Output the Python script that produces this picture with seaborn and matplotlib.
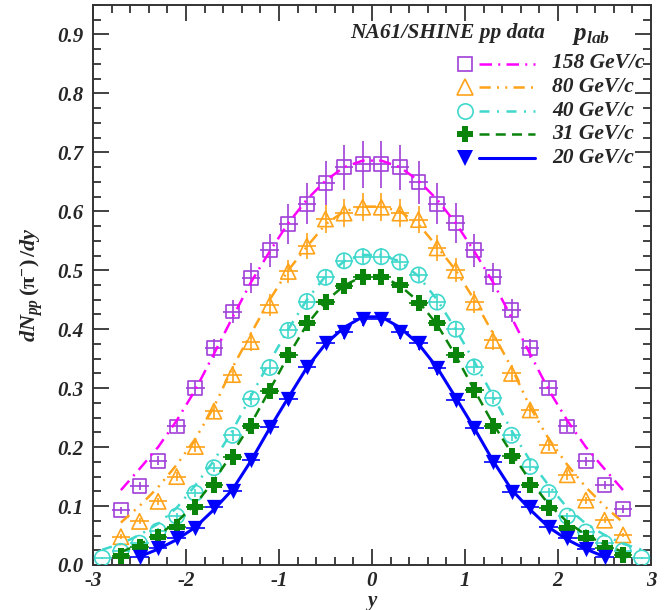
import matplotlib
matplotlib.use("Agg")
import matplotlib.pyplot as plt
from matplotlib.ticker import MultipleLocator, FormatStrFormatter
import seaborn as sns
import numpy as np

# ---------------- data ----------------
x27 = [-2.7, -2.5, -2.3, -2.1, -1.9, -1.7, -1.5, -1.3, -1.1, -0.9, -0.7, -0.5, -0.3, -0.1,
       0.1, 0.3, 0.5, 0.7, 0.9, 1.1, 1.3, 1.5, 1.7, 1.9, 2.1, 2.3, 2.5, 2.7]
x29 = [-2.9, -2.7, -2.5, -2.3, -2.1, -1.9, -1.7, -1.5, -1.3, -1.1, -0.9, -0.7, -0.5, -0.3, -0.1,
       0.1, 0.3, 0.5, 0.7, 0.9, 1.1, 1.3, 1.5, 1.7, 1.9, 2.1, 2.3, 2.5, 2.7, 2.9]
x25 = [-2.5, -2.3, -2.1, -1.9, -1.7, -1.5, -1.3, -1.1, -0.9, -0.7, -0.5, -0.3, -0.1,
       0.1, 0.3, 0.5, 0.7, 0.9, 1.1, 1.3, 1.5, 1.7, 1.9, 2.1, 2.3, 2.5]

# 158 GeV/c
y158 = [0.093, 0.134, 0.177, 0.235, 0.300, 0.368, 0.430, 0.487, 0.534, 0.578, 0.613, 0.648, 0.675, 0.680,
        0.680, 0.675, 0.649, 0.613, 0.580, 0.534, 0.488, 0.432, 0.368, 0.300, 0.235, 0.176, 0.136, 0.095]
e158 = [0.006, 0.007, 0.008, 0.010, 0.012, 0.016, 0.019, 0.025, 0.028, 0.034, 0.035, 0.037, 0.038, 0.040,
        0.040, 0.038, 0.037, 0.035, 0.034, 0.028, 0.025, 0.019, 0.016, 0.012, 0.010, 0.008, 0.007, 0.006]
f158 = [0.127, 0.163, 0.200, 0.245, 0.297, 0.358, 0.420, 0.480, 0.532, 0.580, 0.620, 0.652, 0.675, 0.686,
        0.686, 0.675, 0.652, 0.620, 0.580, 0.532, 0.480, 0.420, 0.358, 0.297, 0.245, 0.200, 0.163, 0.127]

# 80 GeV/c
y80 = [0.048, 0.074, 0.108, 0.150, 0.201, 0.261, 0.323, 0.379, 0.441, 0.498, 0.541, 0.587, 0.597, 0.607,
       0.607, 0.597, 0.586, 0.538, 0.500, 0.446, 0.381, 0.325, 0.263, 0.203, 0.153, 0.110, 0.076, 0.051]
e80 = [0.004, 0.005, 0.006, 0.008, 0.010, 0.012, 0.014, 0.016, 0.018, 0.020, 0.022, 0.023, 0.024, 0.024,
       0.024, 0.024, 0.023, 0.022, 0.020, 0.018, 0.016, 0.014, 0.012, 0.010, 0.008, 0.006, 0.005, 0.004]
f80 = [0.072, 0.100, 0.132, 0.170, 0.214, 0.268, 0.335, 0.393, 0.450, 0.500, 0.540, 0.578, 0.600, 0.608,
       0.608, 0.600, 0.578, 0.540, 0.500, 0.450, 0.393, 0.335, 0.268, 0.214, 0.170, 0.132, 0.100, 0.072]

# 40 GeV/c
y40 = [0.012, 0.023, 0.037, 0.058, 0.083, 0.122, 0.165, 0.220, 0.282, 0.335, 0.398, 0.447, 0.488, 0.516, 0.523,
       0.523, 0.514, 0.492, 0.446, 0.400, 0.336, 0.283, 0.220, 0.167, 0.123, 0.083, 0.056, 0.037, 0.024, 0.012]
e40 = [0.002, 0.003, 0.004, 0.005, 0.006, 0.007, 0.008, 0.009, 0.010, 0.011, 0.012, 0.013, 0.013, 0.014, 0.014,
       0.014, 0.014, 0.013, 0.013, 0.012, 0.011, 0.010, 0.009, 0.008, 0.007, 0.006, 0.005, 0.004, 0.003, 0.002]
f40 = [0.026, 0.036, 0.051, 0.070, 0.097, 0.135, 0.177, 0.228, 0.287, 0.345, 0.400, 0.450, 0.490, 0.515, 0.526,
       0.526, 0.515, 0.490, 0.450, 0.400, 0.345, 0.287, 0.228, 0.177, 0.135, 0.097, 0.070, 0.051, 0.036, 0.026]

# 31 GeV/c
y31 = [0.016, 0.031, 0.047, 0.064, 0.098, 0.135, 0.184, 0.236, 0.295, 0.356, 0.411, 0.446, 0.473, 0.489,
       0.489, 0.475, 0.444, 0.411, 0.356, 0.297, 0.236, 0.185, 0.136, 0.097, 0.063, 0.046, 0.029, 0.017]
e31 = [0.002, 0.003, 0.004, 0.005, 0.006, 0.007, 0.008, 0.009, 0.010, 0.011, 0.012, 0.012, 0.013, 0.013,
       0.013, 0.013, 0.012, 0.012, 0.011, 0.010, 0.009, 0.008, 0.007, 0.006, 0.005, 0.004, 0.003, 0.002]
f31 = [0.022, 0.035, 0.051, 0.073, 0.103, 0.143, 0.190, 0.240, 0.297, 0.355, 0.408, 0.447, 0.474, 0.490,
       0.490, 0.474, 0.447, 0.408, 0.355, 0.297, 0.240, 0.190, 0.143, 0.103, 0.073, 0.051, 0.035, 0.022]

# 20 GeV/c
y20 = [0.013, 0.028, 0.045, 0.063, 0.098, 0.125, 0.178, 0.234, 0.282, 0.336, 0.377, 0.395, 0.418,
       0.418, 0.395, 0.376, 0.334, 0.280, 0.232, 0.175, 0.124, 0.099, 0.065, 0.046, 0.027, 0.013]
e20 = [0.002, 0.003, 0.004, 0.005, 0.006, 0.007, 0.008, 0.009, 0.010, 0.011, 0.011, 0.012, 0.012,
       0.012, 0.012, 0.011, 0.011, 0.010, 0.009, 0.008, 0.007, 0.006, 0.005, 0.004, 0.003, 0.002]
f20 = [0.014, 0.027, 0.043, 0.064, 0.094, 0.128, 0.177, 0.232, 0.284, 0.335, 0.375, 0.403, 0.421,
       0.421, 0.403, 0.375, 0.335, 0.284, 0.232, 0.177, 0.128, 0.094, 0.064, 0.043, 0.027, 0.014]

labels = ["158 GeV/c", "80 GeV/c", "40 GeV/c", "31 GeV/c", "20 GeV/c"]
xtick_vals = [-3, -2, -1, 0, 1, 2, 3]
ytick_vals = [0.0, 0.1, 0.2, 0.3, 0.4, 0.5, 0.6, 0.7, 0.8, 0.9]

# ---------------- style ----------------
sns.set_style("ticks")
plt.rcParams["font.family"] = ["Liberation Serif", "DejaVu Serif"]
plt.rcParams["axes.unicode_minus"] = False
plt.rcParams["mathtext.fontset"] = "custom"
plt.rcParams["mathtext.it"] = "Liberation Serif:italic:bold"
plt.rcParams["mathtext.rm"] = "Liberation Serif:bold"
plt.rcParams["mathtext.bf"] = "Liberation Serif:italic:bold"

FONT = dict(family="Liberation Serif", weight="bold", style="italic")

series = [
    dict(x=x27, y=y158, e=e158, fx=x27, f=f158, mk="s", mc="#a040d8", filled=False,
         lc="#ff00ff", ls=(0, (5.0, 2.5, 0.8, 2.5)), lw=1.8, ms=10),
    dict(x=x27, y=y80, e=e80, fx=x27, f=f80, mk="^", mc="#ffa31a", filled=False,
         lc="#ffa31a", ls=(0, (4.5, 2.5, 0.8, 2.5, 0.8, 2.5)), lw=1.8, ms=11),
    dict(x=x29, y=y40, e=e40, fx=x29, f=f40, mk="o", mc="#40d8cc", filled=False,
         lc="#40d8cc", ls=(0, (4.0, 3.0, 0.8, 3.0)), lw=1.8, ms=11),
    dict(x=x27, y=y31, e=e31, fx=x27, f=f31, mk="P", mc="#0a840a", filled=True,
         lc="#0a840a", ls=(0, (4.0, 2.5)), lw=1.8, ms=11),
    dict(x=x25, y=y20, e=e20, fx=x25, f=f20, mk="v", mc="#0000ff", filled=True,
         lc="#0000ff", ls="-", lw=2.2, ms=11),
]

fig = plt.figure(figsize=(6.66, 6.10), dpi=100)
ax = fig.add_axes([93 / 666, 1 - 565 / 610, 558 / 666, 560 / 610])

for s in series:
    ax.errorbar(s["x"], s["y"], yerr=s["e"], xerr=0.1, fmt="none", ecolor=s["mc"],
                elinewidth=1.2, capsize=0, zorder=2)
    if s["filled"]:
        sns.scatterplot(x=s["x"], y=s["y"], marker=s["mk"], s=s["ms"] ** 2, color=s["mc"],
                        edgecolor=s["mc"], linewidth=0, ax=ax, zorder=3)
    else:
        ax.scatter(s["x"], s["y"], marker=s["mk"], s=s["ms"] ** 2, facecolors="none",
                   edgecolors=s["mc"], linewidths=1.2, zorder=3)
    sns.lineplot(x=s["fx"], y=s["f"], color=s["lc"], linestyle=s["ls"], linewidth=s["lw"],
                 ax=ax, zorder=4, sort=False)

ax.set_xlim(-3, 3)
ax.set_ylim(0, 0.95)
ax.set_xticks(xtick_vals)
ax.set_yticks(ytick_vals)
ax.xaxis.set_minor_locator(MultipleLocator(0.2))
ax.yaxis.set_minor_locator(MultipleLocator(0.025))
ax.yaxis.set_major_formatter(FormatStrFormatter("%.1f"))
ax.xaxis.set_major_formatter(FormatStrFormatter("%d"))

for sp in ax.spines.values():
    sp.set_visible(True)
    sp.set_color("#333333")
    sp.set_linewidth(1.4)
ax.tick_params(which="both", direction="in", top=True, right=True, color="#333333", width=1.3)
ax.tick_params(which="major", length=11.5)
ax.tick_params(which="minor", length=5.8)
ax.tick_params(axis="y", pad=7)
ax.tick_params(axis="x", pad=4)
for lab in ax.get_xticklabels() + ax.get_yticklabels():
    lab.set_fontfamily("Liberation Serif")
    lab.set_fontweight("bold")
    lab.set_fontstyle("italic")
    lab.set_fontsize(15)

ax.set_xlabel("y", fontsize=15, labelpad=0, **FONT)
ax.set_ylabel(r"$dN_{pp}\,(\mathrm{\pi}^{-})\,/dy$", fontsize=16, labelpad=9)

# ---------------- legend (drawn in axes coordinates) ----------------
def ax_x(px):
    return (px - 93) / 558.0

def ax_y(py):
    return (565 - py) / 560.0

ax.text(ax_x(350), ax_y(33), "NA61/SHINE pp data", transform=ax.transAxes, fontsize=15.5,
        va="center", ha="left", **FONT)
ax.text(ax_x(572), ax_y(36), r"$p_{lab}$", transform=ax.transAxes, fontsize=18,
        va="center", ha="left")

rows = [63.5, 87, 110.5, 134, 158]
for s, lab, py in zip(series, labels, rows):
    yy = ax_y(py)
    if s["filled"]:
        ax.plot([ax_x(465)], [yy], marker=s["mk"], ms=s["ms"], color=s["mc"], mew=0,
                transform=ax.transAxes, clip_on=False, linestyle="none")
    else:
        ax.plot([ax_x(465)], [yy], marker=s["mk"], ms=s["ms"], mfc="none", mec=s["mc"], mew=1.2,
                transform=ax.transAxes, clip_on=False, linestyle="none")
    ax.plot([ax_x(479), ax_x(535)], [yy, yy], color=s["lc"], linestyle=s["ls"], linewidth=s["lw"],
            transform=ax.transAxes, clip_on=False)
    ax.text(ax_x(552), yy, lab, transform=ax.transAxes, fontsize=15.5, va="center", ha="left", **FONT)

fig.savefig("out.png", dpi=100)
